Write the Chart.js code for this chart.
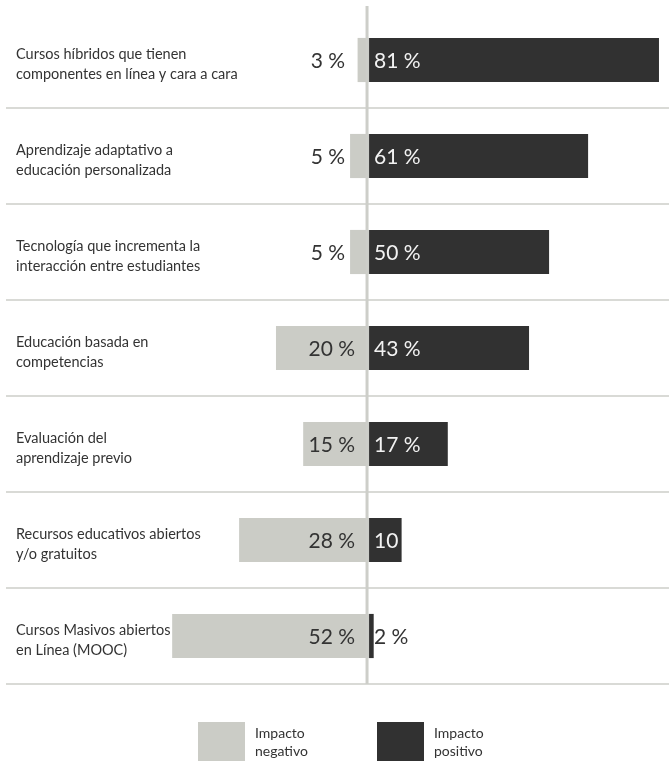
<!DOCTYPE html>
<html>
<head>
<meta charset="utf-8">
<script src="https://cdn.jsdelivr.net/npm/chart.js@4"></script>
<style>
  html, body { margin: 0; padding: 0; background: #fff; }
</style>
</head>
<body>
<canvas id="impacto" width="669" height="761"></canvas>
<script>
const categorias = [
    ['Cursos híbridos que tienen', 'componentes en línea y cara a cara'],
    ['Aprendizaje adaptativo a', 'educación personalizada'],
    ['Tecnología que incrementa la', 'interacción entre estudiantes'],
    ['Educación basada en', 'competencias'],
    ['Evaluación del', 'aprendizaje previo'],
    ['Recursos educativos abiertos', 'y/o gratuitos'],
    ['Cursos Masivos abiertos', 'en Línea (MOOC)']
];
// largo de las barras tal como se ven en el original (no siempre igual a la etiqueta)
const negativo = [3.2, 5.3, 5.3, 26, 18.4, 36.3, 55];
const positivo = [81, 61.2, 50.3, 44.7, 22, 9.1, 1.3];
// textos impresos junto a las barras
const etiquetasNeg = ['3 %', '5 %', '5 %', '20 %', '15 %', '28 %', '52 %'];
const etiquetasPos = ['81 %', '61 %', '50 %', '43 %', '17 %', '10', '2 %'];
const leyenda = [['Impacto', 'negativo'], ['Impacto', 'positivo']];

const GRIS = '#cbccc6';
const OSCURO = '#313131';
const TEXTO = '#333333';
const FUENTE = 'Lato, "Noto Sans", sans-serif';

/*
 Dibuja separadores, eje central, etiquetas y leyenda
*/
const extras = {
    id: 'extras',
    beforeDatasetsDraw(chart) {
        const c = chart.ctx;
        const y = chart.scales.y;
        const paso = y.getPixelForValue(1) - y.getPixelForValue(0);
        c.save();
        c.strokeStyle = '#d9dad6';
        c.lineWidth = 2;
        for (let i = 0; i < categorias.length; i++) {
            let yy = y.getPixelForValue(i) + paso / 2;
            c.beginPath();
            c.moveTo(6, yy);
            c.lineTo(chart.width, yy);
            c.stroke();
        }
        c.restore();
    },
    afterDatasetsDraw(chart) {
        const c = chart.ctx;
        const x = chart.scales.x;
        const y = chart.scales.y;
        const cero = x.getPixelForValue(0);
        c.save();
        // eje central
        c.strokeStyle = '#cdcec9';
        c.lineWidth = 3;
        c.beginPath();
        c.moveTo(cero - 2, 6);
        c.lineTo(cero - 2, chart.chartArea.bottom);
        c.stroke();

        // categorias
        c.font = '14.5px ' + FUENTE;
        c.fillStyle = TEXTO;
        c.textBaseline = 'middle';
        c.textAlign = 'left';
        categorias.forEach((lineas, i) => {
            let yc = y.getPixelForValue(i) + 4;
            c.fillText(lineas[0], 16, yc - 10);
            c.fillText(lineas[1], 16, yc + 10);
        });

        // valores
        c.font = '21px ' + FUENTE;
        for (let i = 0; i < categorias.length; i++) {
            let yc = y.getPixelForValue(i) + 1;
            let anchoPos = x.getPixelForValue(positivo[i]) - cero;
            let tp = etiquetasPos[i];
            c.textAlign = 'left';
            c.fillStyle = (c.measureText(tp).width + 5 < anchoPos) ? '#f2f2f2' : TEXTO;
            c.fillText(tp, cero + 5, yc);

            let anchoNeg = cero - x.getPixelForValue(-negativo[i]);
            let tn = etiquetasNeg[i];
            c.textAlign = 'right';
            c.fillStyle = TEXTO;
            if (c.measureText(tn).width + 18 < anchoNeg) {
                c.fillText(tn, cero - 14, yc);
            } else {
                c.fillText(tn, cero - 24, yc);
            }
        }

        // leyenda
        const cajas = [[198, GRIS], [377, OSCURO]];
        c.font = '14px ' + FUENTE;
        c.textAlign = 'left';
        cajas.forEach((caja, k) => {
            c.fillStyle = caja[1];
            c.fillRect(caja[0], 722, 47, 47);
            c.fillStyle = TEXTO;
            c.fillText(leyenda[k][0], caja[0] + 57, 733);
            c.fillText(leyenda[k][1], caja[0] + 57, 751);
        });
        c.restore();
    }
};

const grafico = new Chart(document.getElementById('impacto'), {
    type: 'bar',
    data: {
        labels: categorias.map(l => l.join(' ')),
        datasets: [{
            label: leyenda[0].join(' '),
            data: negativo.map(v => -v),
            backgroundColor: GRIS,
            barPercentage: 0.46,
            categoryPercentage: 1
        }, {
            label: leyenda[1].join(' '),
            data: positivo,
            backgroundColor: OSCURO,
            barPercentage: 0.46,
            categoryPercentage: 1
        }]
    },
    options: {
        indexAxis: 'y',
        responsive: false,
        animation: false,
        devicePixelRatio: 1,
        layout: { padding: { top: 12, bottom: 77, left: 0, right: 0 } },
        plugins: {
            legend: { display: false },
            tooltip: { enabled: false }
        },
        scales: {
            x: { stacked: true, min: -103.1, max: 83.8, display: false },
            y: { stacked: true, display: false }
        }
    },
    plugins: [extras]
});
</script>
</body>
</html>
